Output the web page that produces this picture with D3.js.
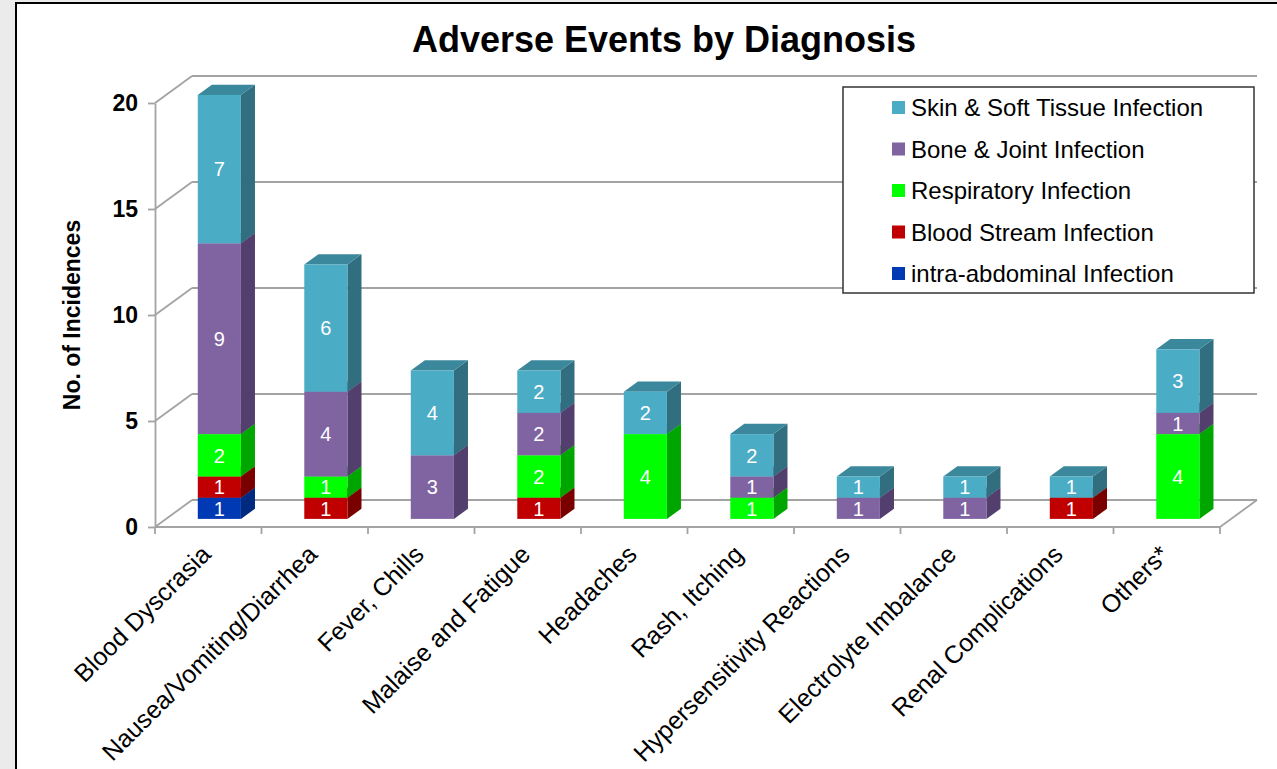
<!DOCTYPE html>
<html>
<head>
<meta charset="utf-8">
<script src="https://cdn.jsdelivr.net/npm/d3@7"></script>
<style>
  body { margin: 0; background: #ebebeb; }
  svg { display: block; font-family: Arial, "Liberation Sans", sans-serif; }
</style>
</head>
<body>
<svg id="chart" width="1277" height="769"></svg>
<script>
const categories = ["Blood Dyscrasia", "Nausea/Vomiting/Diarrhea", "Fever, Chills", "Malaise and Fatigue",
  "Headaches", "Rash, Itching", "Hypersensitivity Reactions", "Electrolyte Imbalance",
  "Renal Complications", "Others*"];

// stacked bottom to top
const intraAbdominal = [1, 0, 0, 0, 0, 0, 0, 0, 0, 0];
const bloodStream    = [1, 1, 0, 1, 0, 0, 0, 0, 1, 0];
const respiratory    = [2, 1, 0, 2, 4, 1, 0, 0, 0, 4];
const boneJoint      = [9, 4, 3, 2, 0, 1, 1, 1, 0, 1];
const skinSoft       = [7, 6, 4, 2, 2, 2, 1, 1, 1, 3];

const seriesNames = ["intra-abdominal Infection", "Blood Stream Infection", "Respiratory Infection",
  "Bone & Joint Infection", "Skin & Soft Tissue Infection"];
const yTicks = [0, 5, 10, 15, 20];

const colors = {
  "intra-abdominal Infection":   { front: "#0039b4", side: "#002a80", top: "#00309a" },
  "Blood Stream Infection":      { front: "#c00000", side: "#7a0000", top: "#9a0000" },
  "Respiratory Infection":       { front: "#00ff00", side: "#00a600", top: "#00cc00" },
  "Bone & Joint Infection":      { front: "#8064a2", side: "#533f6d", top: "#6a5288" },
  "Skin & Soft Tissue Infection":{ front: "#4bacc6", side: "#316f80", top: "#3b889c" }
};

const table = categories.map((c, i) => ({
  cat: c,
  "intra-abdominal Infection": intraAbdominal[i],
  "Blood Stream Infection": bloodStream[i],
  "Respiratory Infection": respiratory[i],
  "Bone & Joint Infection": boneJoint[i],
  "Skin & Soft Tissue Infection": skinSoft[i]
}));

const svg = d3.select("#chart");

// chart frame
svg.append("rect").attr("x", 16).attr("y", 3).attr("width", 1290).attr("height", 800)
  .attr("fill", "#fff").attr("stroke", "#000").attr("stroke-width", 2);

// 3D depth of the plot box
const DX = 37, DY = -27;
const f0 = 0.30, f1 = 0.68; // bar front / back depth fraction

const x = d3.scaleBand().domain(categories).range([155, 1220]);
const y = d3.scaleLinear().domain([0, 20]).range([527, 103]);

const grid = svg.append("g").attr("stroke", "#a3a3a3").attr("stroke-width", 1.8).attr("fill", "none");
const xL = x.range()[0], xR = x.range()[1];

// back wall gridlines + side wall diagonals
yTicks.forEach(t => {
  grid.append("line").attr("x1", xL + DX).attr("x2", xR + DX).attr("y1", y(t) + DY).attr("y2", y(t) + DY);
  grid.append("line").attr("x1", xL).attr("x2", xL + DX).attr("y1", y(t)).attr("y2", y(t) + DY);
});
// floor
grid.append("line").attr("x1", xL).attr("x2", xR).attr("y1", y(0)).attr("y2", y(0));
grid.append("line").attr("x1", xR).attr("x2", xR + DX).attr("y1", y(0)).attr("y2", y(0) + DY);
// category ticks
categories.concat([null]).forEach(c => {
  const xx = c ? x(c) : xR;
  grid.append("line").attr("x1", xx).attr("x2", xx).attr("y1", y(0)).attr("y2", y(0) + 7);
});

// y axis
const yAxis = svg.append("g").attr("transform", `translate(${xL},0)`)
  .call(d3.axisLeft(y).tickValues(yTicks).tickSize(7).tickSizeOuter(0).tickPadding(10));
yAxis.select(".domain").attr("stroke", "#a3a3a3").attr("stroke-width", 1.8);
yAxis.selectAll(".tick line").attr("stroke", "#a3a3a3").attr("stroke-width", 1.8);
yAxis.selectAll(".tick text").attr("font-size", 23).attr("font-weight", "bold").attr("fill", "#000")
  .attr("font-family", "Arial, 'Liberation Sans', sans-serif");

// bars
const stacked = d3.stack().keys(seriesNames)(table);
const barW = x.bandwidth() * 0.405;
const bars = svg.append("g");

categories.forEach((c, ci) => {
  const cx = x(c) + x.bandwidth() / 2;
  const xa = cx - barW / 2, xb = cx + barW / 2;
  stacked.forEach(layer => {
    const d = layer[ci];
    if (d[1] - d[0] <= 0) return;
    const col = colors[layer.key];
    const yb = y(d[0]), yt = y(d[1]);
    const p = (px, py, f) => [px + f * DX, py + f * DY];
    const g = bars.append("g");
    // side
    g.append("polygon").attr("fill", col.side)
      .attr("points", [p(xb, yb, f0), p(xb, yb, f1), p(xb, yt, f1), p(xb, yt, f0)].join(" "));
    // top
    g.append("polygon").attr("fill", col.top)
      .attr("points", [p(xa, yt, f0), p(xb, yt, f0), p(xb, yt, f1), p(xa, yt, f1)].join(" "));
    // front
    const [fx, fy] = p(xa, yt, f0);
    g.append("rect").attr("x", fx).attr("y", fy).attr("width", barW).attr("height", yb - yt)
      .attr("fill", col.front);
    g.append("text").attr("x", fx + barW / 2).attr("y", fy + (yb - yt) / 2)
      .attr("dy", "0.36em").attr("text-anchor", "middle").attr("fill", "#fff")
      .attr("font-size", 20).text(d[1] - d[0]);
  });
});

// category labels
svg.append("g").selectAll("text").data(categories).join("text")
  .attr("transform", d => `translate(${x(d) + x.bandwidth() / 2 + 4},${y(0) + 29}) rotate(-45)`)
  .attr("text-anchor", "end").attr("font-size", 25).attr("fill", "#000").text(d => d);

// title
svg.append("text").attr("x", 664).attr("y", 52).attr("text-anchor", "middle")
  .attr("font-size", 36).attr("font-weight", "bold").text("Adverse Events by Diagnosis");

// y axis title
svg.append("text").attr("transform", "translate(80,315) rotate(-90)").attr("text-anchor", "middle")
  .attr("font-size", 23).attr("font-weight", "bold").text("No. of Incidences");

// legend
const legend = svg.append("g");
legend.append("rect").attr("x", 843).attr("y", 87).attr("width", 411).attr("height", 206)
  .attr("fill", "#fff").attr("stroke", "#333").attr("stroke-width", 1.5);
seriesNames.slice().reverse().forEach((s, i) => {
  const ly = 116 + i * 41.5;
  legend.append("rect").attr("x", 892).attr("y", ly - 15).attr("width", 13).attr("height", 13)
    .attr("fill", colors[s].front);
  legend.append("text").attr("x", 911).attr("y", ly).attr("font-size", 24).text(s);
});
</script>
</body>
</html>
